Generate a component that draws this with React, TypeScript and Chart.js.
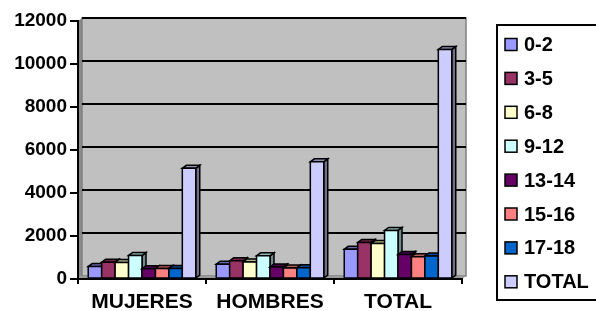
import React, { useEffect, useRef } from 'react';
import { Chart, registerables } from 'chart.js';
Chart.register(...registerables);

const categories = ['MUJERES', 'HOMBRES', 'TOTAL'];
const seriesLabels = ['0-2', '3-5', '6-8', '9-12', '13-14', '15-16', '17-18', 'TOTAL'];
const s0_2 = [580, 690, 1380];
const s3_5 = [780, 850, 1700];
const s6_8 = [770, 790, 1650];
const s9_12 = [1090, 1080, 2260];
const s13_14 = [480, 560, 1140];
const s15_16 = [490, 510, 1040];
const s17_18 = [490, 520, 1070];
const sTotal = [5150, 5450, 10680];
const seriesValues = [s0_2, s3_5, s6_8, s9_12, s13_14, s15_16, s17_18, sTotal];
const seriesColors = ['#9999FF', '#993366', '#FFFFCC', '#CCFFFF', '#660066', '#FF8080', '#0066CC', '#CCCCFF'];
const yTicks = [0, 2000, 4000, 6000, 8000, 10000, 12000];

const DX = 4;
const DY = 3;
const FONT = 'Arial, "Liberation Sans", sans-serif';

function shade(hex: string, f: number) {
  const n = parseInt(hex.slice(1), 16);
  const r = Math.round(((n >> 16) & 255) * f);
  const g = Math.round(((n >> 8) & 255) * f);
  const b = Math.round((n & 255) * f);
  return `rgb(${r},${g},${b})`;
}

function poly(ctx: CanvasRenderingContext2D, pts: number[][], fill: string, stroke?: string, lw = 1) {
  ctx.beginPath();
  ctx.moveTo(pts[0][0], pts[0][1]);
  for (let i = 1; i < pts.length; i++) ctx.lineTo(pts[i][0], pts[i][1]);
  ctx.closePath();
  ctx.fillStyle = fill;
  ctx.fill();
  if (stroke) {
    ctx.strokeStyle = stroke;
    ctx.lineWidth = lw;
    ctx.lineJoin = 'miter';
    ctx.stroke();
  }
}

const wallPlugin = {
  id: 'wall3d',
  beforeDraw(chart: any) {
    const { ctx, chartArea: a, scales } = chart;
    const ys = scales.y;
    ctx.save();
    poly(ctx, [[a.left, a.bottom], [a.left, a.top], [a.left + DX, a.top - DY], [a.left + DX, a.bottom - DY]], '#8a8a8a');
    poly(ctx, [[a.left + DX, a.top - DY], [a.right + DX, a.top - DY], [a.right + DX, a.bottom - DY], [a.left + DX, a.bottom - DY]], '#c0c0c0', '#808080', 1.5);
    poly(ctx, [[a.left, a.bottom], [a.left + DX, a.bottom - DY], [a.right + DX, a.bottom - DY], [a.right, a.bottom]], '#9a9a9a');
    ctx.strokeStyle = '#000000';
    ctx.lineWidth = 2;
    yTicks.forEach((v) => {
      if (v === 0) return;
      const py = Math.round(ys.getPixelForValue(v) - DY);
      ctx.beginPath();
      ctx.moveTo(a.left + DX, py);
      ctx.lineTo(a.right + DX, py);
      ctx.stroke();
    });
    ctx.restore();
  },
  beforeDatasetsDraw(chart: any) {
    const { ctx } = chart;
    ctx.save();
    const n = chart.data.labels.length;
    for (let c = 0; c < n; c++) {
      for (let d = 0; d < chart.data.datasets.length; d++) {
        const meta = chart.getDatasetMeta(d);
        const el = meta.data[c];
        if (!el) continue;
        const { x, y, base, width } = el.getProps(['x', 'y', 'base', 'width'], true);
        const col = seriesColors[d];
        const x0 = x - width / 2;
        const x1 = x + width / 2;
        poly(ctx, [[x1, base], [x1, y], [x1 + DX, y - DY], [x1 + DX, base - DY]], shade(col, 0.55), '#000', 1.5);
        poly(ctx, [[x0, y], [x1, y], [x1 + DX, y - DY], [x0 + DX, y - DY]], shade(col, 0.7), '#000', 1.5);
        poly(ctx, [[x0, base], [x0, y], [x1, y], [x1, base]], col, '#000', 1.5);
      }
    }
    ctx.restore();
    return false;
  },
  afterDraw(chart: any) {
    const { ctx } = chart;
    ctx.save();
    ctx.strokeStyle = '#000';
    ctx.lineWidth = 2;
    ctx.strokeRect(497, 25, 120, 275);
    ctx.font = `bold 20px ${FONT}`;
    ctx.textBaseline = 'middle';
    ctx.textAlign = 'left';
    seriesLabels.forEach((lab, i) => {
      const cy = 44.5 + i * 33.9;
      ctx.fillStyle = seriesColors[i];
      ctx.fillRect(505, cy - 6, 12, 12);
      ctx.strokeStyle = '#000';
      ctx.lineWidth = 1.5;
      ctx.strokeRect(505, cy - 6, 12, 12);
      ctx.fillStyle = '#000';
      ctx.fillText(lab, 524, cy + 1);
    });
    ctx.restore();
  },
};

export default function App() {
  const ref = useRef<HTMLCanvasElement | null>(null);
  useEffect(() => {
    if (!ref.current) return;
    const chart = new Chart(ref.current, {
      type: 'bar',
      data: {
        labels: categories,
        datasets: seriesLabels.map((lab, i) => ({
          label: lab,
          data: seriesValues[i],
          backgroundColor: seriesColors[i],
          borderColor: '#000',
          borderWidth: 0,
          categoryPercentage: 0.84,
          barPercentage: 1.0,
        })),
      },
      options: {
        responsive: false,
        animation: false,
        devicePixelRatio: 1,
        layout: { padding: { top: 21, right: 134, left: 0, bottom: 0 } },
        plugins: {
          legend: { display: false },
          tooltip: { enabled: false },
        },
        scales: {
          x: {
            offset: true,
            grid: { display: true, drawOnChartArea: false, drawTicks: true, tickLength: 5, color: '#000', lineWidth: 2, offset: true },
            border: { display: true, color: '#000', width: 2 },
            ticks: { color: '#000', font: { family: FONT, size: 21, weight: 'bold' }, padding: 6, maxRotation: 0 },
            afterFit: (s: any) => { s.height = 32; },
          },
          y: {
            min: 0,
            max: 12000,
            afterBuildTicks: (s: any) => { s.ticks = yTicks.map((v) => ({ value: v })); },
            grid: { display: true, drawOnChartArea: false, drawTicks: true, tickLength: 8, color: '#000', lineWidth: 2 },
            border: { display: true, color: '#000', width: 2 },
            ticks: { color: '#000', font: { family: FONT, size: 19, weight: 'bold' }, padding: 3, callback: (v: any) => String(v) },
            afterFit: (s: any) => { s.width = 78; },
          },
        },
      },
      plugins: [wallPlugin],
    } as any);
    return () => chart.destroy();
  }, []);
  return (
    <div style={{ position: 'absolute', left: 0, top: 0, width: 596, height: 311, background: '#fff' }}>
      <canvas ref={ref} width={596} height={311} />
    </div>
  );
}
